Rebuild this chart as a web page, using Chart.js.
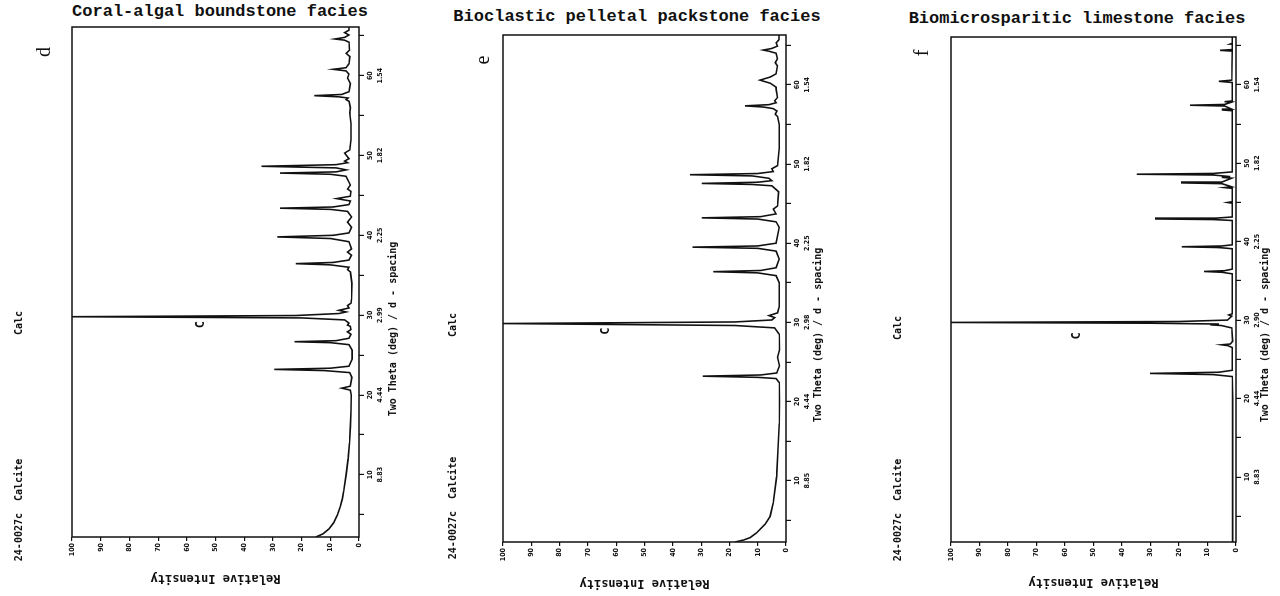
<!DOCTYPE html>
<html>
<head>
<meta charset="utf-8">
<script src="https://cdn.jsdelivr.net/npm/chart.js@4.4.1/dist/chart.umd.min.js"></script>
<style>
  body { margin: 0; background: #fff; width: 1280px; height: 596px; overflow: hidden; position: relative; color: #111; }
  .title { position: absolute; font: bold 17px "Liberation Mono", monospace; line-height: 20px; white-space: nowrap; transform: translateX(-50%); }
  /* each panel is drawn upright and turned a quarter turn, like the scanned page */
  .panel { position: absolute; top: 0; width: 596px; height: 420px; transform-origin: 0 0; transform: translateY(596px) rotate(-90deg); }
  .panel canvas { position: absolute; left: 0; top: 0; }
  .lab { position: absolute; white-space: pre; font: bold 10px "DejaVu Sans Mono", monospace; line-height: 10px; transform: translate(-50%, -50%); }
  .letter { position: absolute; font: 20px "Liberation Serif", serif; line-height: 20px; transform: translate(-50%, -50%); }
</style>
</head>
<body>

<div class="title" style="left:220px; top:2px">Coral-algal boundstone facies</div>
<div class="title" style="left:637px; top:7px">Bioclastic pelletal packstone facies</div>
<div class="title" style="left:1077px; top:9px">Biomicrosparitic limestone facies</div>

<div class="panel" style="left:0px">
  <canvas id="chartD" width="596" height="420"></canvas>
  <div class="lab" style="left:86px; top:19px">24-0027c  Calcite</div>
  <div class="lab" style="left:273px; top:19px">Calc</div>
  <div class="letter" style="left:544px; top:43px">d</div>
  <div class="lab" style="left:267px; top:393px">Two Theta (deg) / d - spacing</div>
</div>

<div class="panel" style="left:430px">
  <canvas id="chartE" width="596" height="420"></canvas>
  <div class="lab" style="left:88px; top:23px">24-0027c  Calcite</div>
  <div class="lab" style="left:271px; top:23px">Calc</div>
  <div class="letter" style="left:536px; top:52px">e</div>
  <div class="lab" style="left:261px; top:388px">Two Theta (deg) / d - spacing</div>
</div>

<div class="panel" style="left:860px">
  <canvas id="chartF" width="596" height="420"></canvas>
  <div class="lab" style="left:86px; top:38px">24-0027c  Calcite</div>
  <div class="lab" style="left:268px; top:38px">Calc</div>
  <div class="letter" style="left:543px; top:61px">f</div>
  <div class="lab" style="left:261px; top:405px">Two Theta (deg) / d - spacing</div>
</div>

<script>
// diffractogram d - coral-algal boundstone
const thetaD = [
  2.2, 2.6, 3.2, 4.0, 5.0, 6.0, 7.0, 8.0, 10.0, 12.0, 14.0, 16.0, 18.0, 20.0,
  20.6, 20.85, 21.1, 22.2, 22.8, 23.05, 23.2, 23.35, 23.6, 24.5, 25.6,
  26.3, 26.55, 26.67, 26.8, 27.1, 27.6, 27.9, 28.2, 28.6, 28.75, 29.0, 29.4, 29.65, 29.8, 29.95, 30.2, 30.4, 30.6, 30.9, 31.2, 31.5,
  32.0, 34.0, 35.4, 35.7, 36.0, 36.3, 36.45, 36.6, 36.9, 37.5, 37.9, 38.3,
  39.2, 39.6, 39.8, 40.0, 40.3, 41.0, 41.65, 42.3,
  43.0, 43.25, 43.4, 43.55, 43.85, 44.3, 44.6, 44.9, 45.5, 45.8, 46.3,
  47.4, 47.65, 47.8, 47.95, 48.2, 48.45, 48.65, 48.85, 49.1, 49.3, 49.6, 50.3, 50.7,
  52.0, 54.0, 55.3, 56.0, 56.8, 57.0, 57.2, 57.35, 57.5, 57.65, 58.0,
  59.0, 59.7, 60.2, 60.6, 60.8, 61.0, 61.5, 62.4, 62.8, 63.2, 64.2, 64.45, 64.6, 64.8, 65.1, 65.4, 65.7, 66.1
];
const intensityD = [
  15, 12.5, 10.5, 8.8, 7.5, 6.5, 5.8, 5.3, 4.5, 3.8, 3.3, 3.0, 2.8, 2.7,
  3.0, 6, 3.0, 2.5, 3.2, 12, 29.5, 10, 3.5, 2.4, 2.4,
  3.5, 10, 22.5, 8, 3.5, 2.8, 4, 2.8, 3.0, 4, 3.5, 5, 20, 100, 22, 7, 4.5, 7, 3.5, 4, 2.8,
  2.6, 2.5, 3, 4, 3.5, 10, 22, 9, 3.5, 2.6, 4, 2.6,
  3.5, 10, 28.5, 9, 3.5, 2.6, 4, 2.6,
  4, 10, 27.5, 9, 3.5, 3, 7.8, 3, 2.8, 4, 3,
  4.5, 10, 27.5, 8, 4.5, 8, 34, 8, 4, 5, 3.5, 5, 3.2,
  2.8, 2.8, 3.2, 3, 3.5, 4.5, 3.8, 7, 15.6, 6, 3.5,
  3, 4, 3.5, 4.5, 9, 4.5, 3.5, 3.2, 4.5, 3.3, 3.5, 5, 8.4, 5, 3.5, 5, 3.5, 3.5
];

// diffractogram e - bioclastic pelletal packstone
const thetaE = [
  2.25, 2.5, 2.8, 3.4, 4.5, 5.5, 7.2, 10.5, 14.0, 17.2, 20.0,
  22.4, 22.9, 23.05, 23.2, 23.35, 23.6, 24.5, 25.6, 26.5, 28.5,
  29.3, 29.6, 29.85, 30.05, 30.3, 30.6, 30.85, 31.2, 32.0, 35.0,
  35.9, 36.25, 36.4, 36.55, 36.9, 38.0, 39.0, 39.35, 39.5, 39.65, 40.0, 42.0,
  42.7, 43.05, 43.2, 43.35, 43.7, 44.3, 44.7, 46.5,
  47.25, 47.42, 47.55, 47.7, 47.9, 48.2, 48.5, 48.65, 48.8, 49.05, 49.4, 49.8, 52.0, 55.0,
  56.0, 56.3, 56.7, 57.0, 57.2, 57.35, 57.5, 57.75, 58.0, 58.4, 59.45,
  59.7, 60.2, 60.6, 61.0, 61.4, 62.4, 62.8, 63.3, 64.0, 64.25, 64.4, 64.6, 64.9, 65.3, 65.7, 66.3
];
const intensityE = [
  18, 15, 12.7, 10.4, 7.4, 5.6, 4.5, 3.3, 2.8, 2.4, 2.3,
  2.4, 3.5, 10, 29.4, 9, 3.3, 2.3, 3, 2.3, 2.4,
  4, 18, 100, 18, 5, 4, 6, 3, 2.4, 2.4,
  3.5, 10, 25.7, 9, 3.5, 2.4, 3.5, 10, 33, 10, 3.5, 2.4,
  3.5, 10, 29.8, 9, 3.5, 4.5, 3, 2.6,
  5, 12, 29.8, 10, 5, 6, 12, 33.9, 10, 4.5, 5, 3, 2.4, 2.4,
  3, 3.8, 3.2, 4.5, 8, 14.5, 6, 3.5, 4, 3, 3.5,
  3.5, 5.5, 9.2, 5.5, 3.5, 3, 3.8, 3, 3.5, 6, 8, 5, 3, 3.5, 2.5, 2.5
];

// diffractogram f - biomicrosparitic limestone
const thetaF = [
  1.7, 20.0, 22.8, 23.05, 23.2, 23.35, 23.6, 26.5, 26.75, 26.85, 26.95, 27.3,
  29.0, 29.3, 29.4, 29.5, 29.6, 29.7, 29.82, 30.0, 30.5, 30.65, 30.8,
  35.9, 36.1, 36.2, 36.3, 36.5, 39.1, 39.25, 39.35, 39.45, 39.6,
  42.7, 42.82, 42.9, 43.0, 43.15, 44.9, 45.0, 45.1,
  46.8, 46.9, 47.0, 47.4, 47.5, 47.6, 48.1, 48.2, 48.3, 48.5, 48.6, 48.7, 48.9,
  56.7, 56.8, 56.9, 57.3, 57.4, 57.5, 57.8, 57.85, 57.95,
  60.3, 60.45, 60.6, 64.3, 64.4, 64.5, 65.15, 65.2, 65.3, 66.1
];
const intensityF = [
  1.2, 1.2, 1.3, 8, 30.2, 6, 1.3, 1.3, 3, 5, 2, 1.2,
  1.5, 5, 9, 6, 30, 100, 20, 3, 1.5, 2.5, 1.3,
  1.3, 5, 11.2, 4, 1.3, 1.3, 6, 19, 5, 1.3,
  1.3, 8, 28.4, 7, 1.3, 1.3, 3, 1.3,
  1.3, 4, 1.5, 5, 19.3, 5, 1.5, 5, 2, 8, 34.8, 8, 1.3,
  1.3, 5, 1.5, 4, 16.1, 4, 1.5, 4, 1.3,
  1.3, 6, 1.5, 1.3, 5.6, 1.3, 1.3, 2, 1.3, 1.3
];

// axis ranges (two theta) and d-spacing labels under 10,20,...,60
const rangeD = [2.2, 66.1];
const rangeE = [2.25, 66.3];
const rangeF = [1.7, 66.1];
const dSpacingD = ['8.83', '4.44', '2.99', '2.25', '1.82', '1.54'];
const dSpacingE = ['8.85', '4.44', '2.98', '2.25', '1.82', '1.54'];
const dSpacingF = ['8.83', '4.44', '2.90', '2.25', '1.82', '1.54'];
// where the "C" (calcite) mark sits: [two theta, intensity]
const calcMarkD = [28.8, 55];
const calcMarkE = [28.9, 63.5];
const calcMarkF = [28.0, 56];

const tickFont = { family: '"Liberation Sans Narrow", "DejaVu Sans Condensed", sans-serif', size: 7, weight: 'bold', lineHeight: 1.4 };

// box round the plot + the peak letter
const framePlugin = {
  id: 'frame',
  afterDraw(chart, args, opts) {
    const { ctx, chartArea: a, scales } = chart;
    ctx.save();
    ctx.strokeStyle = '#111';
    ctx.lineWidth = 1.5;
    ctx.strokeRect(a.left, a.top, a.right - a.left, a.bottom - a.top);
    if (opts.mark) {
      ctx.fillStyle = '#111';
      ctx.font = 'bold 12px "DejaVu Sans Mono", monospace';
      ctx.textAlign = 'center';
      ctx.textBaseline = 'middle';
      ctx.fillText('C', scales.x.getPixelForValue(opts.mark[0]), scales.y.getPixelForValue(opts.mark[1]));
    }
    ctx.restore();
  }
};

function drawPanel(id, theta, intensity, range, dSpacing, mark, pad, yWidth) {
  const points = theta.map((t, i) => ({ x: t, y: intensity[i] }));
  return new Chart(document.getElementById(id), {
    type: 'line',
    data: {
      datasets: [{ data: points, borderColor: '#111', borderWidth: 1.6, pointRadius: 0, tension: 0, fill: false }]
    },
    options: {
      responsive: false,
      animation: false,
      events: [],
      layout: { padding: pad },
      plugins: { legend: { display: false }, tooltip: { enabled: false }, frame: { mark: mark } },
      scales: {
        x: {
          type: 'linear', min: range[0], max: range[1],
          afterFit: s => { s.height = 40; },
          border: { display: false },
          grid: { display: true, drawOnChartArea: false, drawTicks: true, tickLength: 5, color: '#111', lineWidth: 1.2 },
          ticks: {
            stepSize: 5, includeBounds: false, autoSkip: false, maxRotation: 0, minRotation: 0,
            padding: 1, color: '#111', font: tickFont,
            callback: v => (v % 10 === 0 ? [String(v), dSpacing[v / 10 - 1]] : '')
          }
        },
        y: {
          min: 0, max: 100,
          afterFit: s => { s.width = yWidth; },
          border: { display: false },
          grid: { display: true, drawOnChartArea: false, drawTicks: true, tickLength: 4, color: '#111', lineWidth: 1.2 },
          ticks: { stepSize: 10, autoSkip: false, padding: 2, color: '#111', font: tickFont },
          title: {
            display: true, text: 'Relative Intensity', color: '#111', padding: 0,
            font: { family: '"DejaVu Sans Mono", monospace', size: 12, weight: 'bold' }
          }
        }
      }
    },
    plugins: [framePlugin]
  });
}

drawPanel('chartD', thetaD, intensityD, rangeD, dSpacingD, calcMarkD, { left: 11, right: 27, top: 72, bottom: 21 }, 48);
drawPanel('chartE', thetaE, intensityE, rangeE, dSpacingE, calcMarkE, { left: 6, right: 35, top: 73, bottom: 24 }, 48);
drawPanel('chartF', thetaF, intensityF, rangeF, dSpacingF, calcMarkF, { left: 7, right: 37, top: 91, bottom: 4 }, 47);
</script>
</body>
</html>
